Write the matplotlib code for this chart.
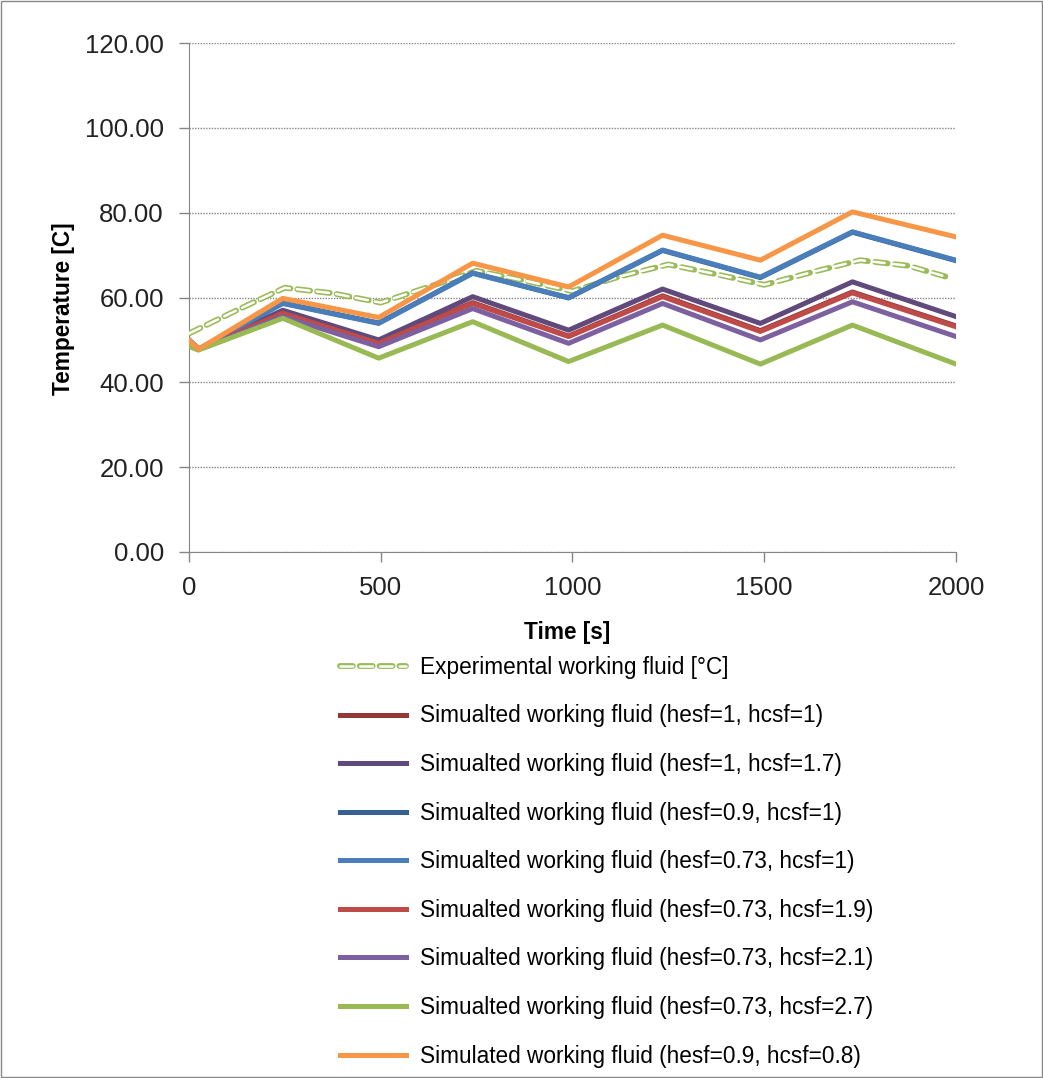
import matplotlib.pyplot as plt
from matplotlib.patches import Rectangle
from matplotlib.ticker import FormatStrFormatter
from matplotlib.lines import Line2D
from matplotlib.legend_handler import HandlerTuple
import numpy as np

# time vertices [s]
t_sim = [0, 25, 245, 495, 740, 990, 1235, 1490, 1730, 2000]
t_exp = [0, 125, 250, 375, 500, 625, 750, 875, 1000, 1125, 1250, 1375, 1500, 1625, 1750, 1875, 1990]

exp_fluid = [51.5, 57.0, 62.3, 61.0, 58.8, 62.5, 66.3, 64.0, 61.5, 65.0, 67.8, 65.5, 63.0, 66.0, 68.8, 67.5, 64.5]

sim_1_1 = [50, 47.8, 56.6, 49.4, 58.8, 50.9, 60.4, 52.2, 61.3, 53.3]
sim_1_17 = [50, 47.8, 57.0, 50.0, 60.2, 52.3, 62.0, 53.9, 63.7, 55.5]
sim_09_1 = [50, 47.8, 58.7, 54.0, 65.8, 59.9, 71.1, 64.7, 75.4, 68.7]
sim_073_1 = [50, 47.8, 58.6, 53.9, 65.7, 60.0, 71.2, 64.8, 75.5, 68.8]
sim_073_19 = [50, 47.8, 56.3, 49.2, 58.6, 50.8, 60.2, 52.0, 61.1, 53.1]
sim_073_21 = [50, 47.8, 55.5, 48.4, 57.4, 49.2, 58.6, 50.0, 59.0, 50.8]
sim_073_27 = [48.5, 47.6, 55.1, 45.7, 54.3, 44.9, 53.5, 44.3, 53.5, 44.3]
sim_09_08 = [50, 47.8, 59.8, 55.3, 68.1, 62.5, 74.7, 68.8, 80.2, 74.3]

labels = [
    "Simualted working fluid (hesf=1, hcsf=1)",
    "Simualted working fluid (hesf=1, hcsf=1.7)",
    "Simualted working fluid (hesf=0.9, hcsf=1)",
    "Simualted working fluid (hesf=0.73, hcsf=1)",
    "Simualted working fluid (hesf=0.73, hcsf=1.9)",
    "Simualted working fluid (hesf=0.73, hcsf=2.1)",
    "Simualted working fluid (hesf=0.73, hcsf=2.7)",
    "Simulated working fluid (hesf=0.9, hcsf=0.8)",
]
series = [sim_1_1, sim_1_17, sim_09_1, sim_073_1, sim_073_19, sim_073_21, sim_073_27, sim_09_08]
colors = ["#953735", "#604A7B", "#376092", "#4A7EBB", "#BE4B48", "#7D60A0", "#98B954", "#F79646"]

plt.rcParams['font.family'] = ['Liberation Sans', 'DejaVu Sans']

fig = plt.figure(figsize=(10.43, 10.78), dpi=100)
ax = fig.add_axes([0.181, 0.488, 0.7356, 0.472])

# experimental: hollow dashes (green outline, white inside)
ax.plot(t_exp, exp_fluid, color="#9BBB59", lw=4.2, ls=(0, (2.2, 1.2)), dash_capstyle='round', zorder=3)
ax.plot(t_exp, exp_fluid, color="white", lw=1.8, ls=(0, (5.1, 2.8)), dash_capstyle='round', zorder=3)

for y, c, lab in zip(series, colors, labels):
    ax.plot(t_sim, y, color=c, lw=3.6, label=lab, zorder=4)

ax.set_xlim(0, 2000)
ax.set_ylim(0, 120)
ax.set_xticks([0, 500, 1000, 1500, 2000])
ax.set_yticks(np.arange(0, 121, 20))
ax.yaxis.set_major_formatter(FormatStrFormatter('%.2f'))
ax.grid(axis='y', color='#868686', ls=(0, (1, 1)), lw=1.0)
ax.set_axisbelow(True)
for s in ['top', 'right']:
    ax.spines[s].set_visible(False)
ax.spines['left'].set_color('#868686')
ax.spines['bottom'].set_color('#868686')
ax.tick_params(axis='both', labelsize=18.5, colors='#868686', length=7, width=1, labelcolor='#222222')
ax.tick_params(axis='y', pad=11)
ax.tick_params(axis='x', pad=10)
ax.set_xlabel("Time [s]", fontsize=16.3, fontweight='bold')
ax.set_ylabel("Temperature [C]", fontsize=16.3, fontweight='bold')
ax.xaxis.set_label_coords(0.493, -0.135)
ax.yaxis.set_label_coords(-0.148, 0.479)

# legend handles: experimental drawn as hollow dashes too
exp_h = (Line2D([], [], color="#9BBB59", lw=4.2, ls=(0, (2.2, 1.2)), dash_capstyle='round'),
         Line2D([], [], color="white", lw=1.8, ls=(0, (5.1, 2.8)), dash_capstyle='round'))
handles, labs = ax.get_legend_handles_labels()
fig.legend([exp_h] + handles, ["Experimental working fluid [°C]"] + labs,
           handler_map={tuple: HandlerTuple(ndivide=1, pad=0)},
           loc='upper left', bbox_to_anchor=(0.317, 0.400), frameon=False,
           fontsize=16.3, handlelength=2.95, handletextpad=0.6, labelspacing=1.13,
           borderaxespad=0)

fig.patches.append(Rectangle((0.001, 0.001), 0.998, 0.998, transform=fig.transFigure,
                             fill=False, edgecolor='#888888', lw=1))

fig.savefig("out.png", dpi=100)
